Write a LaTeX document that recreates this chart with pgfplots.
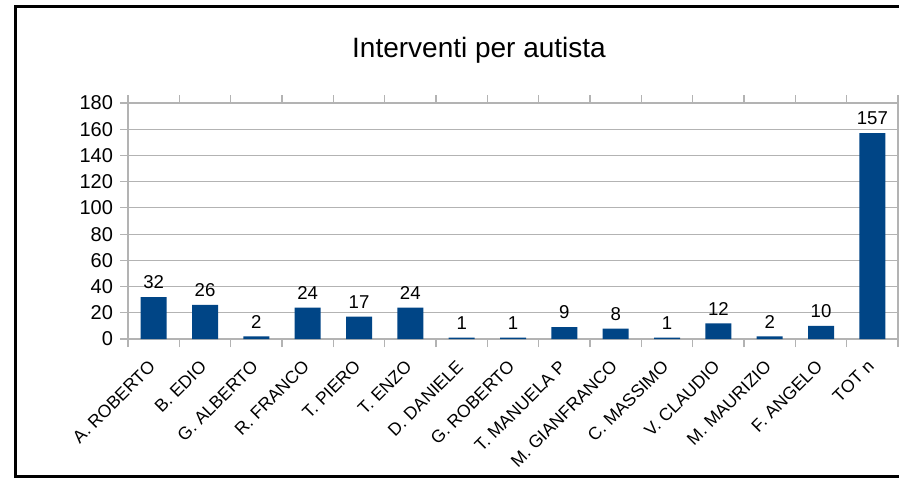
\documentclass[border=0pt]{standalone}
\usepackage{pgfplots}
\pgfplotsset{compat=1.18}
\usepackage{fontspec}
\setmainfont{Liberation Sans}
\definecolor{barblue}{HTML}{004586}
\definecolor{gridgray}{HTML}{B3B3B3}
\begin{document}
\begin{tikzpicture}
\useasboundingbox (0,0) rectangle (449.5pt,239.5pt);
\fill[white] (0,0) rectangle (449.5pt,239.5pt);
\draw[line width=1.5pt] (470pt,236.5pt) -- (7.5pt,236.5pt) -- (7.5pt,1.2pt) -- (470pt,1.2pt);
\node[anchor=base, font=\fontsize{14}{16}\selectfont] at (239.5pt,211pt) {Interventi per autista};
\begin{axis}[
  at={(64pt,70pt)}, anchor=south west,
  scale only axis, width=385pt, height=118pt,
  xmin=-0.5, xmax=14.5, ymin=0, ymax=180,
  ytick={0,20,...,180},
  xtick={0,...,14},
  xticklabels={A. ROBERTO,B. EDIO,G. ALBERTO,R. FRANCO,T. PIERO,T. ENZO,D. DANIELE,G. ROBERTO,T. MANUELA P,M. GIANFRANCO,C. MASSIMO,V. CLAUDIO,M. MAURIZIO,F. ANGELO,TOT n},
  minor xtick={-0.5,0.5,...,14.5},
  major x tick style={draw=none},
  tick align=outside,
  major tick length=4pt, minor tick length=4pt,
  every tick/.style={gridgray, line width=0.6pt},
  ymajorgrids, grid style={gridgray, line width=0.6pt},
  axis line style={gridgray, line width=0.6pt},
  yticklabel style={font=\fontsize{10}{11}\selectfont, black},
  /pgf/number format/assume math mode=true,
  xticklabel style={font=\fontsize{8.8}{10}\selectfont, black, yshift=-7.5pt, rotate=45, anchor=east, inner sep=1pt},
  ybar, bar width=13pt,
  nodes near coords,
  every node near coord/.append style={font=\fontsize{9.3}{10}\selectfont, black, yshift=0.5pt},
]
\addplot[fill=barblue, draw=none] coordinates {
(0,32) (1,26) (2,2) (3,24) (4,17) (5,24) (6,1) (7,1) (8,9) (9,8) (10,1) (11,12) (12,2) (13,10) (14,157)
};
\end{axis}
\end{tikzpicture}
\end{document}
